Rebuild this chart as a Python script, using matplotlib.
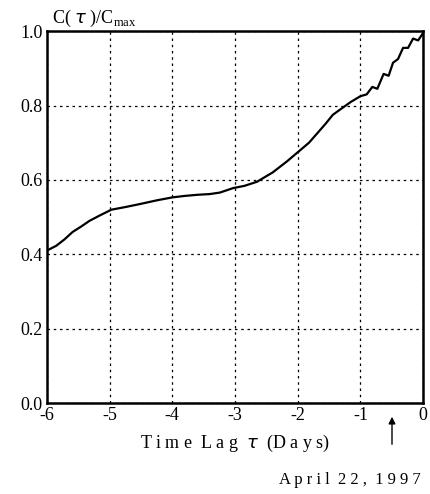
import numpy as np
import matplotlib
matplotlib.use('Agg')
import matplotlib.pyplot as plt

plt.rcParams['font.family'] = ['Liberation Serif', 'DejaVu Serif']
plt.rcParams['mathtext.fontset'] = 'custom'
plt.rcParams['mathtext.rm'] = 'Liberation Serif'

# time lag (days) and normalised correlation C(tau)/Cmax
lag = [-6.0, -5.85, -5.72, -5.59, -5.45, -5.32, -5.15, -4.97, -4.75, -4.52,
       -4.25, -4.0, -3.8, -3.6, -3.4, -3.24, -3.03, -2.85, -2.65, -2.4,
       -2.17, -1.96, -1.82, -1.69, -1.56, -1.44, -1.3, -1.15, -1.0, -0.9,
       -0.81, -0.73, -0.63, -0.55, -0.48, -0.40, -0.32, -0.24, -0.16, -0.08,
       0.0]
corr = [0.41, 0.423, 0.44, 0.46, 0.475, 0.49, 0.505, 0.52, 0.527, 0.535,
        0.545, 0.553, 0.557, 0.56, 0.562, 0.566, 0.578, 0.584, 0.595, 0.62,
        0.65, 0.68, 0.70, 0.725, 0.75, 0.775, 0.792, 0.81, 0.825, 0.83,
        0.85, 0.845, 0.885, 0.88, 0.915, 0.925, 0.955, 0.955, 0.98, 0.975,
        0.995]

xticks = [-6, -5, -4, -3, -2, -1, 0]
yticks = [0.0, 0.2, 0.4, 0.6, 0.8, 1.0]

fig = plt.figure(figsize=(4.3, 4.94), dpi=100)
ax = fig.add_axes([0.109, 0.184, 0.875, 0.753])

ax.plot(lag, corr, color='black', lw=1.6)

ax.set_xlim(-6, 0)
ax.set_ylim(0, 1)
ax.set_xticks(xticks)
ax.set_xticklabels(['-6', '-5', '-4', '-3', '-2', '-1', '0'])
ax.set_yticks(yticks)
ax.set_yticklabels(['%.1f' % v for v in yticks])
ax.tick_params(length=0, labelsize=13, pad=3)
ax.grid(True, color='black', linestyle=(0, (2, 3)), lw=0.9)
for s in ax.spines.values():
    s.set_linewidth(1.8)

ax.set_xlabel(r'T i m e  L a g  $\tau$  (D a y s)', fontsize=13, labelpad=6)
fig.text(0.121, 0.963, r'C( $\tau$ )/C$_{\mathrm{max}}$', fontsize=13,
         ha='left', va='center')

# marker for the event date
fig.patches.append(matplotlib.patches.FancyArrowPatch(
    (392 / 430, 1 - 447 / 494), (392 / 430, 1 - 414 / 494),
    transform=fig.transFigure, arrowstyle='-|>', mutation_scale=10,
    color='black', lw=1.0))
fig.text(350 / 430, 1 - 480 / 494, 'A p r i l  2 2 ,  1 9 9 7', fontsize=12,
         ha='center', va='center')

fig.savefig('out.png', dpi=100)
